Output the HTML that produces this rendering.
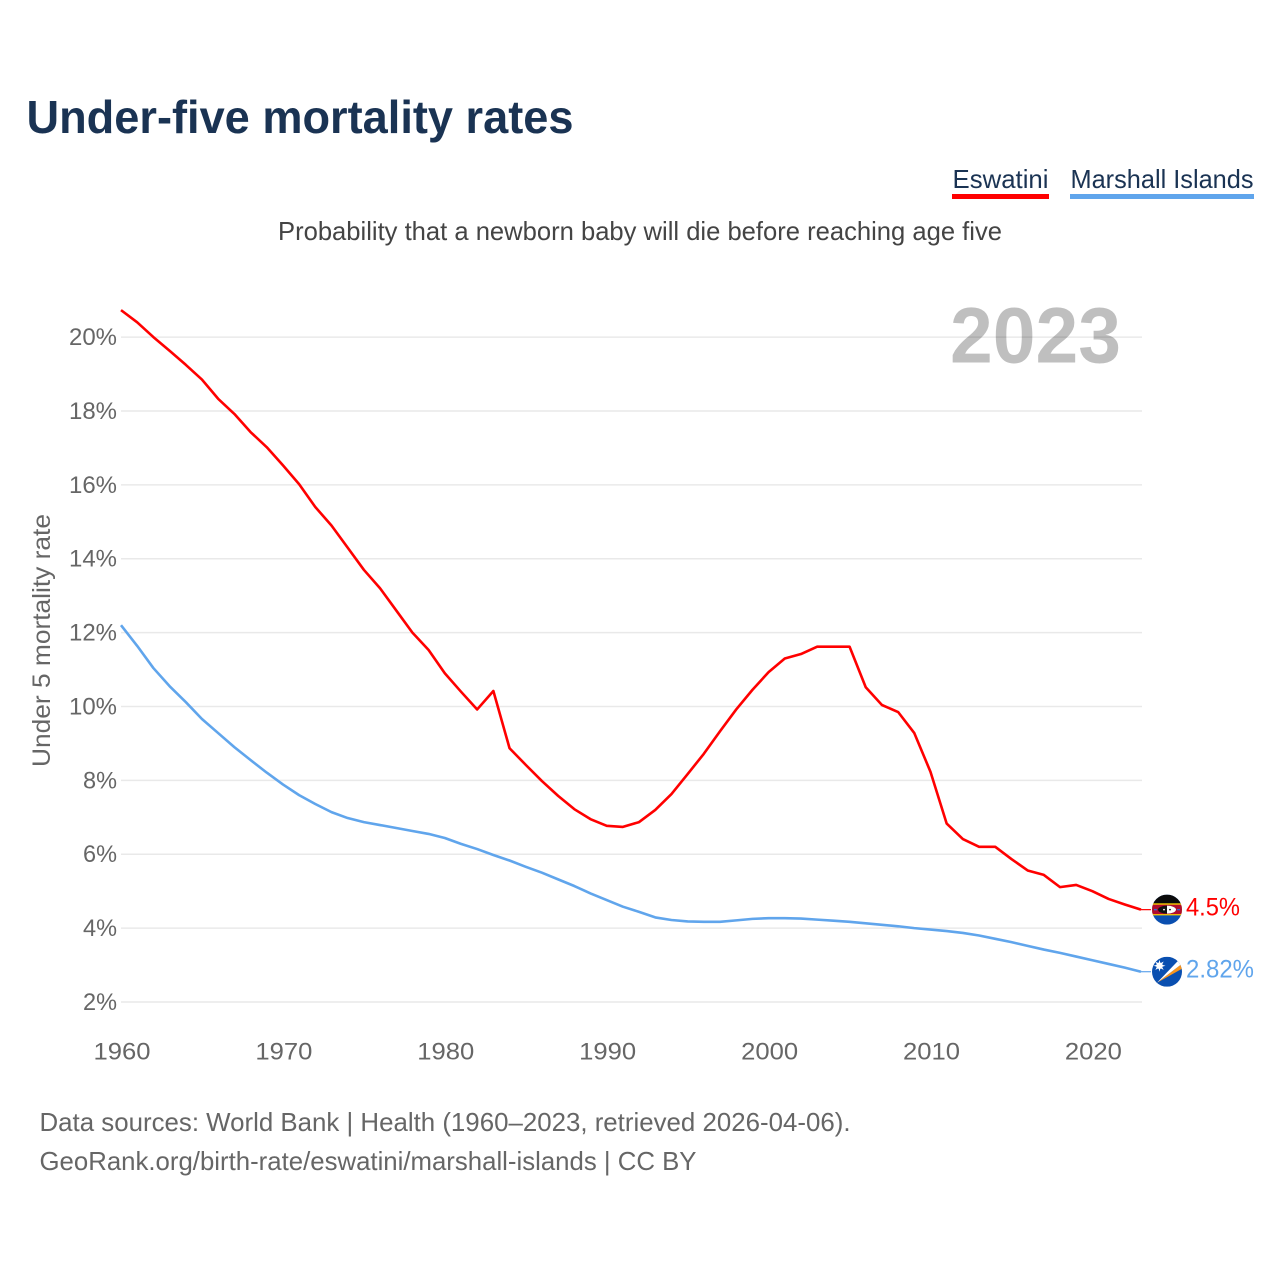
<!DOCTYPE html>
<html lang="en">
<head>
<meta charset="utf-8">
<title>Under-five mortality rates</title>
<style>
html,body{margin:0;padding:0;background:#fff;width:1280px;height:1280px;overflow:hidden}
svg{display:block;font-family:"Liberation Sans",sans-serif}
</style>
</head>
<body>
<svg id="chart" xmlns="http://www.w3.org/2000/svg" width="1280" height="1280" viewBox="0 0 1280 1280">
  <rect width="1280" height="1280" fill="#fff"/>
  <text x="26.5" y="133" font-size="46" font-weight="700" fill="#1a3353" textLength="547" lengthAdjust="spacingAndGlyphs">Under-five mortality rates</text>

  <g>
    <text x="952.5" y="188" font-size="26" fill="#1a3353" textLength="96" lengthAdjust="spacingAndGlyphs">Eswatini</text>
    <rect x="952" y="194" width="97" height="5" fill="#ff0000"/>
  </g>
  <g>
    <text x="1070.5" y="188" font-size="26" fill="#1a3353" textLength="183" lengthAdjust="spacingAndGlyphs">Marshall Islands</text>
    <rect x="1070" y="194" width="184" height="5" fill="#60a5ec"/>
  </g>

  <text x="278" y="240" font-size="26" fill="#444" textLength="724" lengthAdjust="spacingAndGlyphs">Probability that a newborn baby will die before reaching age five</text>

  <text x="950" y="362.5" font-size="79" font-weight="700" fill="#000" fill-opacity="0.25" textLength="171" lengthAdjust="spacingAndGlyphs">2023</text>

  <g id="grid"></g>
  <g id="yticks"></g>
  <g id="xticks"></g>

  <text transform="translate(50,767) rotate(-90)" font-size="25" fill="#666" textLength="253" lengthAdjust="spacingAndGlyphs">Under 5 mortality rate</text>

  <g id="series"></g>

  <defs>
    <clipPath id="flag-clip"><circle cx="0" cy="0" r="15"/></clipPath>
  </defs>

  <g id="flag-sz" clip-path="url(#flag-clip)">
    <rect x="-15" y="-15" width="30" height="30" fill="#0a4fb0"/>
    <rect x="-15" y="-15" width="30" height="9" fill="#0b0b0b"/>
    <rect x="-15" y="-6.3" width="30" height="12" fill="#ffd900"/>
    <rect x="-15" y="-5" width="30" height="9.5" fill="#b10c2f"/>
    <ellipse cx="0" cy="0" rx="9" ry="4" fill="#111"/>
    <path d="M0,-4 A9,4 0 0 1 0,4 Z" fill="#fff"/>
    <circle cx="-3" cy="0" r="0.9" fill="#fff"/>
    <circle cx="3" cy="0" r="0.9" fill="#111"/>
    <rect x="-13" y="-0.7" width="3" height="1.4" fill="#3a66c0"/>
    <rect x="10" y="-0.7" width="3" height="1.4" fill="#3a66c0"/>
  </g>
  <g id="flag-mh" clip-path="url(#flag-clip)">
    <rect x="-15" y="-15" width="30" height="30" fill="#0a4fb0"/>
    <path d="M-10,11 L15,-8 L15,-3 Z" fill="#f7941d"/>
    <path d="M-10,11 L13,-13 L15,-8 Z" fill="#fff"/>
    <circle cx="-7.5" cy="-6" r="3.2" fill="#fff"/>
    <path d="M-7.5,-12 L-6.6,-8.5 L-3.3,-10.2 L-5,-7 L-1.5,-6 L-5,-5 L-3.3,-1.8 L-6.6,-3.5 L-7.5,0 L-8.4,-3.5 L-11.7,-1.8 L-10,-5 L-13.5,-6 L-10,-7 L-11.7,-10.2 L-8.4,-8.5 Z" fill="#fff"/>
  </g>

  <g id="end-labels"></g>

  <text x="39.5" y="1131" font-size="26" fill="#666" textLength="811" lengthAdjust="spacingAndGlyphs">Data sources: World Bank | Health (1960–2023, retrieved 2026-04-06).</text>
  <text x="39.5" y="1170" font-size="26" fill="#666" textLength="657" lengthAdjust="spacingAndGlyphs">GeoRank.org/birth-rate/eswatini/marshall-islands | CC BY</text>
</svg>
<script>
const startYear = 1960;
const yTickValues = [2, 4, 6, 8, 10, 12, 14, 16, 18, 20];
const xTickYears = [1960, 1970, 1980, 1990, 2000, 2010, 2020];
const eswatini = [20.73,20.4,20.0,19.63,19.25,18.85,18.33,17.92,17.43,17.02,16.53,16.02,15.4,14.9,14.3,13.7,13.2,12.6,12.0,11.53,10.9,10.4,9.92,10.42,8.87,8.42,7.98,7.58,7.22,6.95,6.77,6.74,6.87,7.2,7.63,8.17,8.72,9.33,9.92,10.45,10.93,11.3,11.42,11.62,11.62,11.62,10.52,10.04,9.85,9.28,8.23,6.83,6.41,6.2,6.2,5.87,5.56,5.44,5.11,5.17,5.0,4.79,4.64,4.5];
const marshallIslands = [12.2,11.64,11.04,10.55,10.12,9.66,9.28,8.9,8.55,8.21,7.89,7.6,7.36,7.14,6.98,6.87,6.79,6.71,6.63,6.55,6.44,6.28,6.14,5.98,5.83,5.66,5.5,5.32,5.14,4.94,4.76,4.58,4.44,4.29,4.22,4.18,4.17,4.17,4.21,4.25,4.27,4.27,4.26,4.23,4.2,4.17,4.13,4.09,4.05,4.0,3.96,3.92,3.87,3.8,3.71,3.62,3.52,3.42,3.33,3.23,3.13,3.03,2.93,2.82];

const NS = 'http://www.w3.org/2000/svg';
const xScale = year => 121 + (year - startYear) * 16.19;
const yScale = value => 1002 - (value - 2) * 36.94;

function make(tag, parent, attrs) {
  const el = document.createElementNS(NS, tag);
  for (const key in attrs) el.setAttribute(key, attrs[key]);
  parent.appendChild(el);
  return el;
}

const grid = document.getElementById('grid');
const yTicks = document.getElementById('yticks');
const xTicks = document.getElementById('xticks');
const seriesGroup = document.getElementById('series');
const endLabels = document.getElementById('end-labels');

yTickValues.forEach(value => {
  const y = yScale(value);
  const line = make('line', grid, {x1: 121, x2: 1142, y1: y, y2: y, stroke: '#000', 'stroke-opacity': 0.085, 'stroke-width': 1.5});
  
  
  const label = make('text', yTicks, {x: 117, y: y + 8, 'text-anchor': 'end', 'font-size': 24, fill: '#666',
    textLength: String(value).length * 14 + 20, lengthAdjust: 'spacingAndGlyphs'});
  
  
  label.textContent = value + '%';
});

xTickYears.forEach(year => {
  const label = make('text', xTicks, {x: xScale(year) + 1, y: 1059.5, 'text-anchor': 'middle', 'font-size': 24, fill: '#666',
    textLength: 57, lengthAdjust: 'spacingAndGlyphs'});
  
  
  label.textContent = year;
});

function drawSeries(values, color, flagId, labelWidth) {
  const points = values.map((v, i) => xScale(startYear + i).toFixed(2) + ',' + yScale(v).toFixed(2)).join(' ');
  const line = make('polyline', seriesGroup, {points: points, fill: 'none', stroke: color, 'stroke-width': 2.6, 'stroke-linejoin': 'round'});
  
  

  const last = values[values.length - 1];
  const lastX = xScale(startYear + values.length - 1);
  const lastY = yScale(last);

  const connector = make('line', seriesGroup, {x1: lastX, x2: lastX + 10, y1: lastY, y2: lastY, stroke: color, 'stroke-width': 1.2});
  
  

  document.getElementById(flagId).setAttribute('transform', 'translate(1167,' + lastY.toFixed(2) + ')');

  const label = make('text', endLabels, {x: 1186, y: lastY + 6, 'font-size': 25, fill: color,
    textLength: labelWidth, lengthAdjust: 'spacingAndGlyphs'});
  
  
  label.textContent = last + '%';
}

drawSeries(marshallIslands, '#60a5ec', 'flag-mh', 68);
drawSeries(eswatini, '#ff0000', 'flag-sz', 54);
</script>
</body>
</html>
